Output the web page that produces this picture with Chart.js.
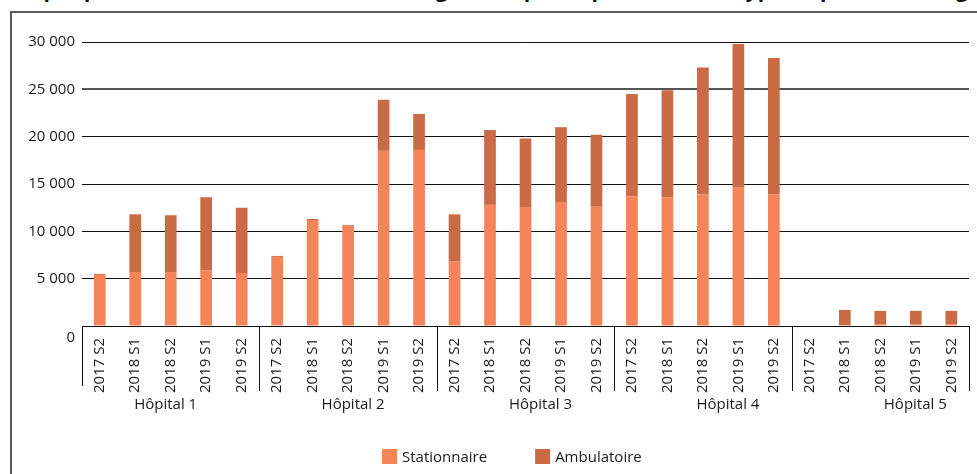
<!DOCTYPE html>
<html lang="fr">
<head>
<meta charset="utf-8">
<script src="https://cdn.jsdelivr.net/npm/chart.js@4"></script>
<style>
  html, body { margin: 0; padding: 0; background: #fff; overflow: hidden; }
  #wrap { position: relative; width: 977px; height: 474px; overflow: hidden; }
  #frame { position: absolute; left: 10px; top: 11px; width: 1000px; height: 500px; border: 2px solid #5a5a5a; box-sizing: border-box; }
  #title { position: absolute; left: 6px; top: -21px; font: bold 21px 'Open Sans', sans-serif; line-height: 21px; white-space: nowrap; color: #111; }
  canvas { position: absolute; left: 0; top: 0; }
</style>
</head>
<body>
<div id="wrap">
  <div id="title">Graphique 3 – Nombre d’admissions enregistrées par hôpital, selon le type de prise en charge</div>
  <div id="frame"></div>
  <canvas id="chart" width="977" height="474"></canvas>
</div>
<script>
const hospitals = ['Hôpital 1', 'Hôpital 2', 'Hôpital 3', 'Hôpital 4', 'Hôpital 5'];
const semesters = ['2017 S2', '2018 S1', '2018 S2', '2019 S1', '2019 S2'];

const stationnaire = [
  5400, 5700, 5700, 5900, 5600,
  7300, 11200, 10600, 18500, 18600,
  6800, 12800, 12500, 13100, 12600,
  13700, 13600, 13900, 14600, 13900,
  null, 100, 150, 150, 150
];
const ambulatoire = [
  100, 6100, 6000, 7700, 6900,
  100, 100, 80, 5400, 3800,
  5000, 7900, 7300, 7900, 7600,
  10800, 11300, 13400, 15200, 14400,
  null, 1600, 1450, 1450, 1450
];

const labels = [];
hospitals.forEach(() => semesters.forEach(s => labels.push(s)));

const font = "'Open Sans', sans-serif";
const textColor = '#1a1a1a';

// group labels, separators and legend drawn on the canvas
const groupAxis = {
  id: 'groupAxis',
  afterDraw(chart) {
    const ctx = chart.ctx;
    const x = chart.scales.x;
    const step = x.getPixelForValue(1) - x.getPixelForValue(0);
    const axisY = chart.chartArea.bottom;
    ctx.save();
    ctx.strokeStyle = '#111';
    ctx.lineWidth = 1;
    for (let g = 0; g <= hospitals.length; g++) {
      const px = Math.round(x.getPixelForValue(g * semesters.length) - step / 2) + 0.5;
      ctx.beginPath();
      ctx.moveTo(px, axisY);
      ctx.lineTo(px, axisY + (g === 0 ? 60 : 65));
      ctx.stroke();
    }
    ctx.fillStyle = textColor;
    ctx.font = '15px ' + font;
    ctx.textAlign = 'center';
    ctx.textBaseline = 'alphabetic';
    hospitals.forEach((h, g) => {
      const c = (x.getPixelForValue(g * 5) + x.getPixelForValue(g * 5 + 4)) / 2;
      ctx.fillText(h, c + (g - 0.5) * 10, axisY + 83);
    });

    // legend
    const items = chart.data.datasets.map(d => ({ text: d.label, color: d.backgroundColor }));
    const box = 15, gapText = 5, gapItem = 48;
    ctx.textAlign = 'left';
    let total = 0;
    items.forEach((it, i) => {
      it.w = ctx.measureText(it.text).width;
      total += box + gapText + it.w + (i ? gapItem : 0);
    });
    let lx = Math.round((chart.chartArea.left + chart.chartArea.right) / 2 - 14 - total / 2);
    const ly = 449;
    items.forEach(it => {
      ctx.fillStyle = it.color;
      ctx.fillRect(lx, ly, box, box);
      ctx.fillStyle = textColor;
      ctx.fillText(it.text, lx + box + gapText, ly + 13);
      lx += box + gapText + it.w + gapItem;
    });
    ctx.restore();
  }
};

new Chart(document.getElementById('chart'), {
  type: 'bar',
  data: {
    labels: labels,
    datasets: [
      {
        label: 'Stationnaire',
        data: stationnaire,
        backgroundColor: '#F4845A',
        barPercentage: 0.33,
        categoryPercentage: 1
      },
      {
        label: 'Ambulatoire',
        data: ambulatoire,
        backgroundColor: '#C96B45',
        barPercentage: 0.33,
        categoryPercentage: 1
      }
    ]
  },
  options: {
    responsive: false,
    animation: false,
    layout: { padding: { top: 42, right: 8, bottom: 48, left: 0 } },
    plugins: {
      legend: { display: false },
      tooltip: { enabled: false }
    },
    scales: {
      x: {
        stacked: true,
        afterFit: scale => { scale.height = 100; },
        grid: { display: false },
        border: { display: true, color: '#111', width: 1 },
        ticks: {
          color: textColor,
          font: { family: font, size: 15 },
          minRotation: 90,
          maxRotation: 90,
          autoSkip: false,
          padding: 4
        }
      },
      y: {
        stacked: true,
        min: 0,
        max: 30000,
        afterFit: scale => { scale.width = 82; },
        border: { display: false },
        grid: {
          color: ctx => ctx.tick && ctx.tick.value === 25000 ? '#555' : '#111',
          lineWidth: ctx => ctx.tick && ctx.tick.value === 25000 ? 2 : 1,
          drawTicks: false
        },
        ticks: {
          stepSize: 5000,
          autoSkip: false,
          color: textColor,
          padding: 7,
          font: { family: font, size: 15, lineHeight: 1.6 },
          // the 0 label sits below the axis line in the original
          callback: v => v === 0 ? ['', '0'] : String(v).replace(/\B(?=(\d{3})+(?!\d))/g, ' ')
        }
      }
    }
  },
  plugins: [groupAxis]
});
</script>
</body>
</html>
